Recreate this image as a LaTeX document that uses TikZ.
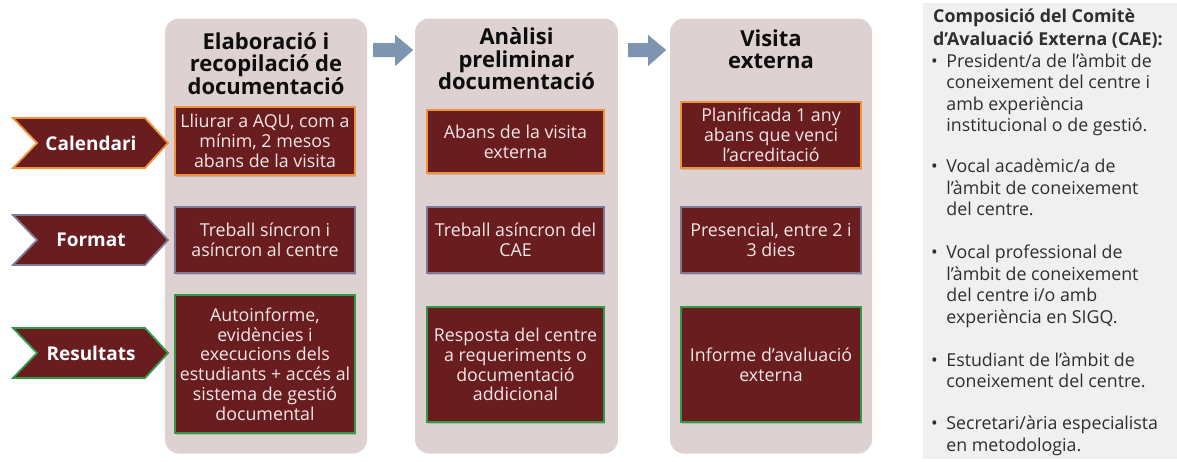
\documentclass[tikz,border=0pt]{standalone}
\usepackage{fontspec}
\setmainfont{Open Sans}
\usetikzlibrary{shadows}
\definecolor{colbg}{HTML}{DDD1D1}
\definecolor{maroon}{HTML}{6A1D1F}
\definecolor{boxtxt}{HTML}{F3E7E7}
\definecolor{orangeb}{HTML}{F0923A}
\definecolor{grayb}{HTML}{7D7A96}
\definecolor{greenb}{HTML}{2F9A48}
\definecolor{arrowc}{HTML}{7E95B1}
\definecolor{panelbg}{HTML}{F0F0F0}
\definecolor{paneltxt}{HTML}{2E2E2E}
\tikzset{
  column/.style={fill=colbg, rounded corners=14pt, draw=none},
  coltitle/.style={font=\bfseries\fontsize{22}{22.5}\selectfont, text=black!95, align=center, inner sep=0pt},
  infobox/.style={fill=maroon, draw=#1, line width=1.2pt, text=boxtxt, align=center,
     font=\fontsize{17.8}{19.8}\selectfont, inner sep=0pt,
     drop shadow={shadow xshift=1pt, shadow yshift=-2pt, opacity=0.35}},
  tag/.style={fill=maroon, draw=#1, line width=1.8pt, line join=miter},
  tagtext/.style={text=white, font=\bfseries\fontsize{19}{20}\selectfont, inner sep=0pt},
  flowarrow/.style={fill=arrowc, draw=none},
  paneltext/.style={text=paneltxt, anchor=north west, inner sep=0pt,
     font=\fontsize{17.8}{21.5}\selectfont}
}
\begin{document}
\begin{tikzpicture}[x=1pt,y=-1pt]
\useasboundingbox (0,0) rectangle (1177,461);
% columns
\node[column, minimum width=202pt, minimum height=435pt] (c1) at (266,236) {};
\node[column, minimum width=203pt, minimum height=435pt] (c2) at (516.5,236) {};
\node[column, minimum width=202pt, minimum height=435pt] (c3) at (771,236) {};
% titles
\node[coltitle] (t1) at (266,63.5) {Elaboració i\\recopilació de\\documentació};
\node[coltitle] (t2) at (516.5,59) {Anàlisi\\preliminar\\documentació};
\node[coltitle] (t3) at (771,49) {Visita\\externa};
% flow arrows
\path (c1.east) ++(6,-186) coordinate (a1s);
\path (c2.east) ++(10,-186) coordinate (a2s);
\fill[flowarrow] (a1s) ++(0,-7) -- ++(22,0) -- ++(0,-8) -- ++(18,15) -- ++(-18,16) -- ++(0,-9) -- ++(-22,0) -- cycle;
\fill[flowarrow] (a2s) ++(0,-7) -- ++(20,0) -- ++(0,-8) -- ++(18,15) -- ++(-18,16) -- ++(0,-9) -- ++(-20,0) -- cycle;
% row 1
\node[infobox=orangeb, minimum width=180pt, minimum height=68pt] (b11) at (265,141) {Lliurar a AQU, com a\\mínim, 2 mesos\\abans de la visita};
\node[infobox=orangeb, minimum width=177pt, minimum height=63pt] (b12) at (515.5,141.5) {Abans de la visita\\externa};
\node[infobox=orangeb, minimum width=180pt, minimum height=66pt] (b13) at (771,135) {Planificada 1 any\\abans que venci\\l’acreditació};
% row 2
\node[infobox=grayb, minimum width=180pt, minimum height=66pt] (b21) at (265,240) {Treball síncron i\\asíncron al centre};
\node[infobox=grayb, minimum width=177pt, minimum height=66pt] (b22) at (515.5,240) {Treball asíncron del\\CAE};
\node[infobox=grayb, minimum width=180pt, minimum height=66pt] (b23) at (771,240) {Presencial, entre 2 i\\3 dies};
% row 3
\node[infobox=greenb, minimum width=180pt, minimum height=138pt] (b31) at (265,364) {Autoinforme,\\evidències i\\execucions dels\\estudiants + accés al\\sistema de gestió\\documental};
\node[infobox=greenb, minimum width=177pt, minimum height=115pt] (b32) at (515.5,364.5) {Resposta del centre\\a requeriments o\\documentació\\addicional};
\node[infobox=greenb, minimum width=180pt, minimum height=115pt] (b33) at (771,364.5) {Informe d’avaluació\\externa};
% left tags
\draw[tag=orangeb] (13,118) -- (145,118) -- (168,143) -- (145,168) -- (13,168) -- (37,143) -- cycle;
\node[tagtext] (l1) at (91,143) {Calendari};
\draw[tag=grayb] (13,215) -- (145,215) -- (168,240) -- (145,265) -- (13,265) -- (37,240) -- cycle;
\node[tagtext] (l2) at (91,240) {Format};
\draw[tag=greenb] (13,328) -- (145,328) -- (168,353) -- (145,378) -- (13,378) -- (37,353) -- cycle;
\node[tagtext] (l3) at (91,353) {Resultats};
% right panel
\fill[panelbg] (923,3) rectangle (1177,459);
\node[paneltext] (panel) at (931,7.5) {%
\begin{tabular}{@{}l@{\hspace{8.5pt}}l@{}}
\multicolumn{2}{@{\hspace{2pt}}l@{}}{\bfseries Composició del Comitè}\\[1.5pt]
\multicolumn{2}{@{\hspace{2pt}}l@{}}{\bfseries d’Avaluació Externa (CAE):}\\
• & President/a de l’àmbit de\\
  & coneixement del centre i\\
  & amb experiència\\
  & institucional o de gestió.\\[19.5pt]
• & Vocal acadèmic/a de\\
  & l’àmbit de coneixement\\
  & del centre.\\[21.5pt]
• & Vocal professional de\\
  & l’àmbit de coneixement\\
  & del centre i/o amb\\
  & experiència en SIGQ.\\[21.5pt]
• & Estudiant de l’àmbit de\\
  & coneixement del centre.\\[20.5pt]
• & Secretari/ària especialista\\
  & en metodologia.
\end{tabular}};
\end{tikzpicture}
\end{document}
